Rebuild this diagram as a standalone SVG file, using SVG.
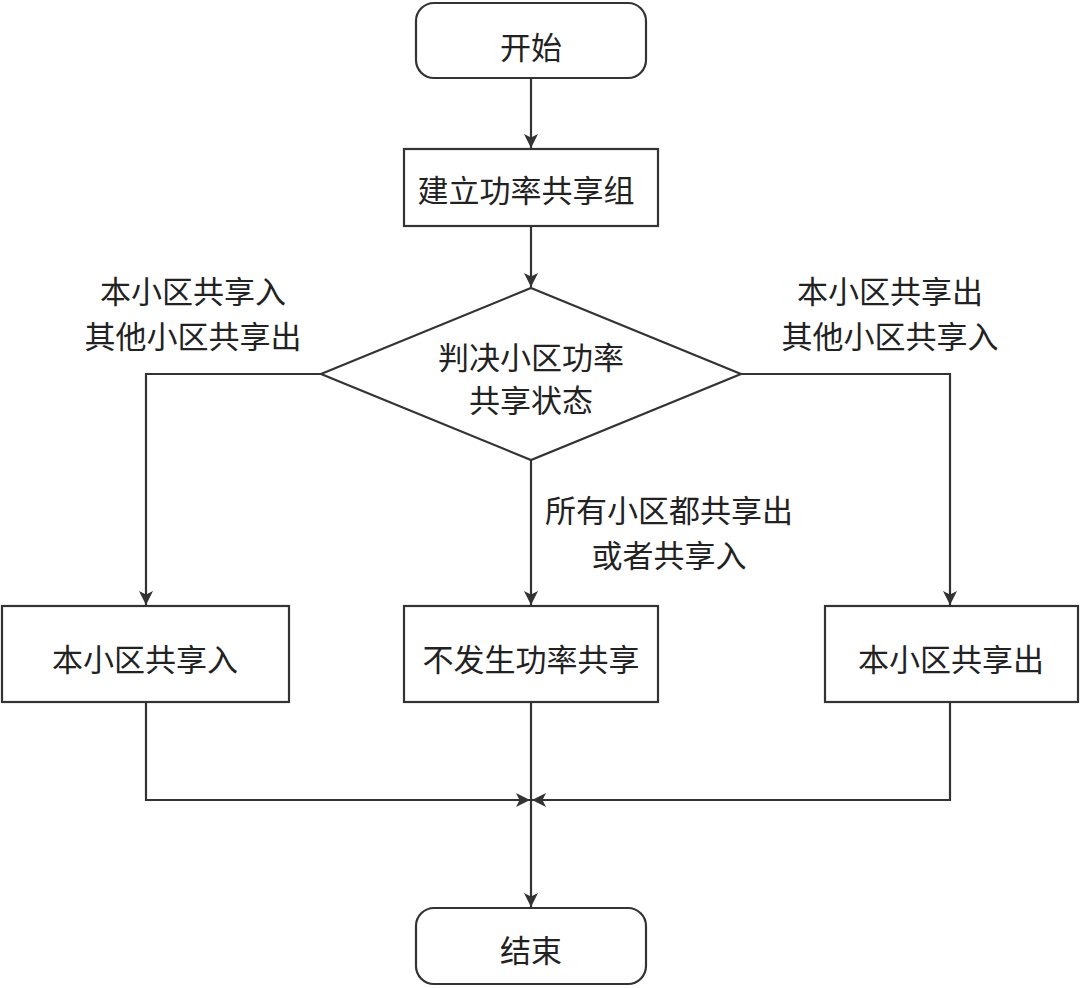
<svg xmlns="http://www.w3.org/2000/svg" width="1080" height="988" viewBox="0 0 1080 988">
<style>
.n{fill:#fff;stroke:#333;stroke-width:2.2}
.c{fill:none;stroke:#333;stroke-width:2.2}
text{font-family:"Noto Sans CJK SC","Noto Sans",sans-serif;font-size:31px;fill:#222;text-anchor:middle;dominant-baseline:central}
</style>
<defs>
<marker id="a" viewBox="0 0 10 10" refX="10" refY="5" markerWidth="14" markerHeight="14" markerUnits="userSpaceOnUse" orient="auto">
<path d="M0,0 L10,5 L0,10 L2.5,5 z" fill="#333"/>
</marker>
</defs>
<rect width="1080" height="988" fill="#fff"/>
<g id="connectors">
<path class="c" d="M531,78 V148" marker-end="url(#a)"/>
<path class="c" d="M531,226 V287" marker-end="url(#a)"/>
<path class="c" d="M321,374 H146 V605" marker-end="url(#a)"/>
<path class="c" d="M741,374 H950 V605" marker-end="url(#a)"/>
<path class="c" d="M531,460 V605" marker-end="url(#a)"/>
<path class="c" d="M146,702 V800 H530" marker-end="url(#a)"/>
<path class="c" d="M950,702 V800 H532" marker-end="url(#a)"/>
<path class="c" d="M531,702 V907" marker-end="url(#a)"/>
</g>
<g id="start"><rect class="n" x="416" y="3" width="230" height="75" rx="18"/><text x="531" y="45">开始</text></g>
<g id="build"><rect class="n" x="404" y="149" width="254" height="77"/><text x="526" y="188">建立功率共享组</text></g>
<g id="decide"><polygon class="n" points="531,288 741,374 531,460 321,374"/><text x="531" y="355">判决小区功率</text><text x="531" y="398">共享状态</text></g>
<g id="in"><rect class="n" x="2" y="606" width="287" height="96"/><text x="145" y="657">本小区共享入</text></g>
<g id="none"><rect class="n" x="404" y="606" width="254" height="96"/><text x="531" y="657">不发生功率共享</text></g>
<g id="out"><rect class="n" x="825" y="606" width="253" height="96"/><text x="951" y="657">本小区共享出</text></g>
<g id="end"><rect class="n" x="416" y="908" width="230" height="76" rx="18"/><text x="531" y="948">结束</text></g>
<g id="labels">
<text x="193" y="289">本小区共享入</text>
<text x="193" y="334">其他小区共享出</text>
<text x="890" y="289">本小区共享出</text>
<text x="890" y="334">其他小区共享入</text>
<text x="669" y="508">所有小区都共享出</text>
<text x="669" y="553">或者共享入</text>
</g>
</svg>
